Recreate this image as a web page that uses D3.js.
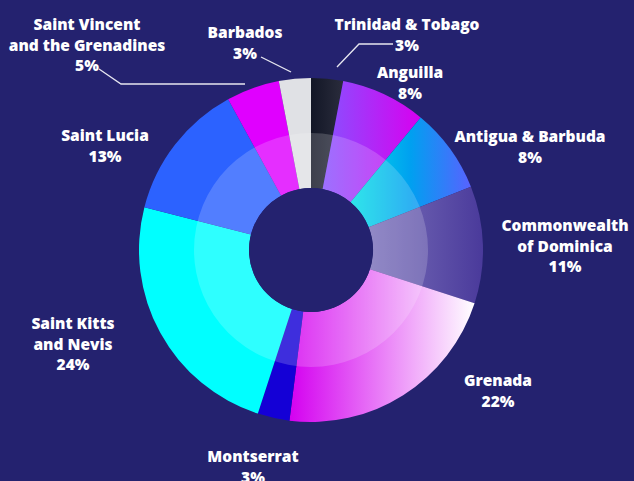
<!DOCTYPE html>
<html>
<head>
<meta charset="utf-8">
<script src="https://cdn.jsdelivr.net/npm/d3@7"></script>
<style>
  html, body { margin: 0; padding: 0; background: #24226f; }
  svg { display: block; }
</style>
</head>
<body>
<svg id="chart" width="634" height="481"></svg>
<script>
// ---- data ----
const countries = ["Trinidad & Tobago", "Anguilla", "Antigua & Barbuda", "Commonwealth of Dominica",
  "Grenada", "Montserrat", "Saint Kitts and Nevis", "Saint Lucia",
  "Saint Vincent and the Grenadines", "Barbados"];
const shares = [3, 8, 8, 11, 22, 3, 24, 13, 5, 3];
const labelLines = [["Trinidad & Tobago"], ["Anguilla"], ["Antigua & Barbuda"], ["Commonwealth", "of Dominica"],
  ["Grenada"], ["Montserrat"], ["Saint Kitts", "and Nevis"], ["Saint Lucia"],
  ["Saint Vincent", "and the Grenadines"], ["Barbados"]];

// ---- styling / layout ----
const fills = [
  ["#121626", "#2a2c3c"],
  ["#8752ff", "#d800f0"],
  ["#00e0e6", "#00a0f0", "#5862ff"],
  ["#7a70ba", "#4a3a9b"],
  ["#d400f0", "#ffffff"],
  ["#1400d6"],
  ["#00ffff"],
  ["#2c62ff"],
  ["#e000ff"],
  ["#e0e1e5"]
];
// label anchor (x of center, baseline of first line)
const labelPos = [
  [407, 30], [410, 78], [530, 142], [565, 231], [498, 386], [253, 462], [73, 329], [105, 141], [87, 30], [245, 38]
];
const leaders = {
  0: [[337, 67], [359, 44], [393, 44]],
  8: [[99, 69], [121, 84], [245, 84]],
  9: [[261, 57], [291, 72]]
};

const W = 634, H = 481;
const cx = 311, cy = 250;
const rOuter = 172, rMid = 117, rHole = 62;
const bg = "#24226f";

const svg = d3.select("#chart");
svg.append("rect").attr("width", W).attr("height", H).attr("fill", bg);

const defs = svg.append("defs");
fills.forEach((stops, i) => {
  const g = defs.append("linearGradient").attr("id", "g" + i)
    .attr("x1", "0%").attr("x2", "100%").attr("y1", "0%").attr("y2", "0%");
  const cols = stops.length === 1 ? [stops[0], stops[0]] : stops;
  cols.forEach((c, k) => g.append("stop")
    .attr("offset", (k / (cols.length - 1) * 100) + "%").attr("stop-color", c));
});

const pie = d3.pie().sort(null).value(d => d).startAngle(0).endAngle(2 * Math.PI);
const arcs = pie(shares);

const g = svg.append("g").attr("transform", `translate(${cx},${cy})`);
const arcOuter = d3.arc().innerRadius(rHole).outerRadius(rOuter);
g.selectAll("path.slice").data(arcs).join("path")
  .attr("class", "slice")
  .attr("d", arcOuter)
  .attr("fill", (d, i) => `url(#g${i})`);

// lighter inner ring
g.append("path")
  .attr("d", d3.arc().innerRadius(rHole).outerRadius(rMid).startAngle(0).endAngle(2 * Math.PI)())
  .attr("fill", "#ffffff").attr("fill-opacity", 0.18);

// hole
g.append("circle").attr("r", rHole).attr("fill", bg);

// leader lines
const line = d3.line();
Object.entries(leaders).forEach(([i, pts]) => {
  svg.append("path").attr("d", line(pts))
    .attr("fill", "none").attr("stroke", "#e6e6f0").attr("stroke-width", 1.3);
});

// labels
const lh = 20.5;
countries.forEach((c, i) => {
  const [x, y] = labelPos[i];
  const t = svg.append("text")
    .attr("x", x).attr("y", y)
    .attr("text-anchor", "middle")
    .attr("fill", "#ffffff")
    .attr("font-family", "'Open Sans', Lato, sans-serif")
    .attr("font-weight", 800)
    .attr("font-size", 15.5);
  const lines = labelLines[i].concat([shares[i] + "%"]);
  lines.forEach((s, k) => t.append("tspan").attr("x", x).attr("y", y + k * lh).text(s));
});
</script>
</body>
</html>
